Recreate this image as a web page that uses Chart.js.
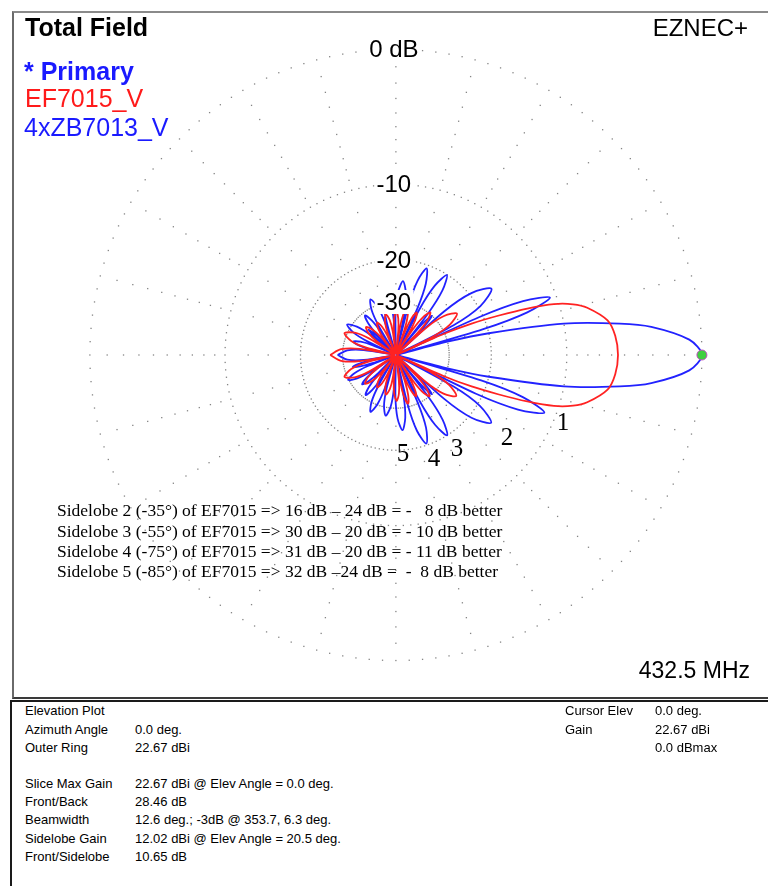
<!DOCTYPE html>
<html><head><meta charset="utf-8">
<script src="https://cdn.jsdelivr.net/npm/chart.js@4/dist/chart.umd.min.js"></script>
<style>
html,body{margin:0;padding:0;background:#fff;}
body{width:768px;height:886px;position:relative;overflow:hidden;font-family:Arial,"Liberation Sans",sans-serif;color:#000;}
.t{position:absolute;white-space:pre;line-height:1;}
#plotPanel{position:absolute;left:12px;top:11px;width:770px;height:684px;border-top:2px solid #8a8a8a;border-left:2px solid #6a6a6a;border-bottom:2px solid #3a3a3a;}
#infoPanel{position:absolute;left:10px;top:700px;width:770px;height:200px;border-top:2px solid #1a1a1a;border-left:2px solid #1a1a1a;}
#c{position:absolute;left:14px;top:14px;}
.ser{font-family:"Times New Roman","Liberation Serif",serif;}
.info{font-size:13px;}
.ring{font-size:24px;background:#fff;padding:0 2px;transform:translate(-50%,-50%);}
.num{font-size:25px;transform:translate(-50%,-50%);}
</style></head><body>
<div id="plotPanel"></div>
<div id="infoPanel"></div>
<canvas id="c" width="750" height="682"></canvas>

<div class="t" style="left:25px;top:15px;font-size:25px;font-weight:bold;">Total Field</div>
<div class="t" style="left:24px;top:59px;font-size:25px;font-weight:bold;color:#1a1aff;">* Primary</div>
<div class="t" style="left:25px;top:86px;font-size:25px;color:#ff1a1a;">EF7015_V</div>
<div class="t" style="left:24px;top:115px;font-size:25px;color:#1a1aff;">4xZB7013_V</div>
<div class="t" style="right:20px;top:16px;font-size:24px;">EZNEC+</div>
<div class="t" style="right:18px;top:659px;font-size:23px;">432.5 MHz</div>

<div class="t ser" style="left:57px;top:502px;font-size:17.5px;">Sidelobe 2 (-35°) of EF7015 =&gt; 16 dB – 24 dB = -   8 dB better</div>
<div class="t ser" style="left:57px;top:522.5px;font-size:17.5px;">Sidelobe 3 (-55°) of EF7015 =&gt; 30 dB – 20 dB = - 10 dB better</div>
<div class="t ser" style="left:57px;top:542.5px;font-size:17.5px;">Sidelobe 4 (-75°) of EF7015 =&gt; 31 dB – 20 dB = - 11 dB better</div>
<div class="t ser" style="left:57px;top:562.5px;font-size:17.5px;">Sidelobe 5 (-85°) of EF7015 =&gt; 32 dB –24 dB =  -  8 dB better</div>

<div class="t ser num" style="left:563px;top:421px;">1</div>
<div class="t ser num" style="left:507px;top:436px;">2</div>
<div class="t ser num" style="left:457px;top:447px;">3</div>
<div class="t ser num" style="left:434px;top:457px;">4</div>
<div class="t ser num" style="left:403px;top:452px;">5</div>

<div class="t info" style="left:25px;top:703.5px;">Elevation Plot</div>
<div class="t info" style="left:25px;top:722.5px;">Azimuth Angle</div>
<div class="t info" style="left:135px;top:722.5px;">0.0 deg.</div>
<div class="t info" style="left:25px;top:740.5px;">Outer Ring</div>
<div class="t info" style="left:135px;top:740.5px;">22.67 dBi</div>
<div class="t info" style="left:25px;top:776.5px;">Slice Max Gain</div>
<div class="t info" style="left:135px;top:776.5px;">22.67 dBi @ Elev Angle = 0.0 deg.</div>
<div class="t info" style="left:25px;top:794.5px;">Front/Back</div>
<div class="t info" style="left:135px;top:794.5px;">28.46 dB</div>
<div class="t info" style="left:25px;top:813px;">Beamwidth</div>
<div class="t info" style="left:135px;top:813px;">12.6 deg.; -3dB @ 353.7, 6.3 deg.</div>
<div class="t info" style="left:25px;top:831.5px;">Sidelobe Gain</div>
<div class="t info" style="left:135px;top:831.5px;">12.02 dBi @ Elev Angle = 20.5 deg.</div>
<div class="t info" style="left:25px;top:850px;">Front/Sidelobe</div>
<div class="t info" style="left:135px;top:850px;">10.65 dB</div>
<div class="t info" style="left:565px;top:703.5px;">Cursor Elev</div>
<div class="t info" style="left:655px;top:703.5px;">0.0 deg.</div>
<div class="t info" style="left:565px;top:722.5px;">Gain</div>
<div class="t info" style="left:655px;top:722.5px;">22.67 dBi</div>
<div class="t info" style="left:655px;top:740.5px;">0.0 dBmax</div>

<script>
// ---- data (elevation angle in degrees, level in dB relative to outer ring) ----
const blueAngles = [
-180,-174.5,-171.2,-169,
-168.1,-166.75,-164.5,-162.25,-160.9,-160,
-158.5,-156.25,-152.5,-148.75,-146.5,-145,
-143.8,-142,-139,-136,-134.2,-133,
-131.8,-130,-127,-124,-122.2,-121,
-119.6,-117.5,-114,-110.5,-108.4,-107,
-105.5,-103.25,-99.5,-95.75,-93.5,-92,
-90.6,-88.5,-85,-81.5,-79.4,-78,
-76.6,-74.5,-71,-67.5,-65.4,-64,
-62.7,-60.75,-57.5,-54.25,-52.3,-51,
-50.3,-49.25,-47.5,-45.75,-44.7,-44,
-42.3,-39.75,-35.5,-31.25,-28.7,-27,
-25.85,-24.1,-21.25,-18.4,-16.65,-15.5,
-14.5,-13.2,-10.6,-8,-6.3,-3,0,3,6.3,8,10.6,13.2,14.5,15.5,
16.5,18,20.5,23,24.5,25.5,
27.35,30.1,34.75,39.4,42.15,44,
44.7,45.75,47.5,49.25,50.3,51,
52.3,54.25,57.5,60.75,62.7,64,
65.3,67.25,70.5,73.75,75.7,77,
78.5,80.75,84.5,88.25,90.5,92,
93.5,95.75,99.5,103.25,105.5,107,
108.5,110.75,114.5,118.25,120.5,122,
123.2,125,128,131,132.8,134,
134.6,135.5,137,138.5,139.4,140,
141.6,144,148,152,154.4,156,
157.3,159.25,162.5,165.75,167.7,169,
171.2,174.5,180];
const blueDb = [
-28.46,-31.5,-38.5,-90,
-43,-36,-33,-36,-43,-90,
-39.8,-32.8,-29.8,-32.8,-39.8,-90,
-43,-36,-33,-36,-43,-90,
-41,-34,-31,-34,-41,-90,
-37.3,-30.3,-27.3,-30.3,-37.3,-90,
-37.5,-30.5,-27.5,-30.5,-37.5,-90,
-34,-27,-24,-27,-34,-90,
-30.3,-23.3,-20.3,-23.3,-30.3,-90,
-30,-23,-20,-23,-30,-90,
-40,-33,-30,-33,-40,-90,
-26.5,-19.5,-16.5,-19.5,-26.5,-90,
-21.2,-14.2,-11.2,-14.2,-21.2,-90,
-30,-20,-10,-5.2,-3,-0.7,0,-0.7,-3,-5.2,-10,-20,-30,-90,
-20.65,-13.65,-10.65,-13.65,-20.65,-90,
-26.6,-19.6,-16.6,-19.6,-26.6,-90,
-40,-33,-30,-33,-40,-90,
-30.1,-23.1,-20.1,-23.1,-30.1,-90,
-30.6,-23.6,-20.6,-23.6,-30.6,-90,
-34.3,-27.3,-24.3,-27.3,-34.3,-90,
-37.5,-30.5,-27.5,-30.5,-37.5,-90,
-37.6,-30.6,-27.6,-30.6,-37.6,-90,
-41,-34,-31,-34,-41,-90,
-46,-39,-36,-39,-46,-90,
-38.7,-31.7,-28.7,-31.7,-38.7,-90,
-43,-36,-33,-36,-43,-90,
-38.5,-31.5,-28.46];

const redAngles = [
-180,-174,-170.4,-168,
-165.8,-162.5,-157,-151.5,-148.2,-146,
-144.2,-141.5,-137,-132.5,-129.8,-128,
-126.4,-124,-120,-116,-113.6,-112,
-110.4,-108,-104,-100,-97.6,-96,
-94.6,-92.5,-89,-85.5,-83.4,-82,
-80.8,-79,-76,-73,-71.2,-70,
-68.8,-67,-64,-61,-59.2,-58,
-56.6,-54.5,-51,-47.5,-45.4,-44,
-42.05,-39.1,-34.25,-29.4,-26.45,-24.5,
-23.8,-22.6,-21,-19.5,-17.9,-16,-13.9,-9.3,-5,0,5,9.3,13.9,16,17.9,19.5,21,22.6,23.8,24.5,
26.45,29.4,34.25,39.1,42.05,44,
45.4,47.5,51,54.5,56.6,58,
59.2,61,64,67,68.8,70,
71.3,73.25,76.5,79.75,81.7,83,
84.3,86.25,89.5,92.75,94.7,96,
97.6,100,104,108,110.4,112,
113.6,116,120,124,126.4,128,
129.8,132.5,137,141.5,144.2,146,
148.2,151.5,157,162.5,165.8,168,
170.4,174,180];
const redDb = [
-26.4,-29.4,-36.4,-90,
-39.2,-32.2,-29.2,-32.2,-39.2,-90,
-44,-37,-34,-37,-44,-90,
-46,-39,-36,-39,-46,-90,
-44.5,-37.5,-34.5,-37.5,-44.5,-90,
-42.5,-35.5,-32.5,-35.5,-42.5,-90,
-41,-34,-31,-34,-41,-90,
-42.5,-35.5,-32.5,-35.5,-42.5,-90,
-40,-33,-30,-33,-40,-90,
-34.6,-27.6,-24.6,-27.6,-34.6,-90,
-30,-22.6,-17.5,-13.5,-10.5,-8.7,-7.55,-6.1,-5.65,-5.5,-5.65,-6.1,-7.55,-8.7,-10.5,-13.5,-17.5,-22.6,-30,-90,
-34.4,-27.4,-24.4,-27.4,-34.4,-90,
-39.5,-32.5,-29.5,-32.5,-39.5,-90,
-42,-35,-32,-35,-42,-90,
-41.5,-34.5,-31.5,-34.5,-41.5,-90,
-43.5,-36.5,-33.5,-36.5,-43.5,-90,
-44,-37,-34,-37,-44,-90,
-46,-39,-36,-39,-46,-90,
-44.5,-37.5,-34.5,-37.5,-44.5,-90,
-39.2,-32.2,-29.2,-32.2,-39.2,-90,
-36.4,-29.4,-26.4];

const cursorAngle = [0];
const cursorDb = [0];

const ringDb = [0, -10, -20, -30];
const ringLabels = ['0 dB', '-10', '-20', '-30'];
const spokeDb = [-1,-2,-3,-4,-5,-6,-7,-8,-9,-12.5,-15,-17.5,-25];

// ---- layout ----
const W = 750, H = 682, CX = 382, CY = 341, R = 311, CANVAS_LEFT = 14, CANVAS_TOP = 14;
const SPOKE_STEP = 15, RING_STEP = 2.5;

// ARRL log scale: radius factor 0.89 per 2 dB
function rad(db){ return Math.pow(0.89, -db/2); }
function toXY(angles, dbs){
  return angles.map((a,i)=>{ const r = rad(dbs[i]); const t = a*Math.PI/180; return {x:r*Math.cos(t), y:r*Math.sin(t)}; });
}

const gridPlugin = {
  id: 'polarGrid',
  beforeDatasetsDraw(chart){
    const ctx = chart.ctx, xs = chart.scales.x, ys = chart.scales.y;
    const dot = (r, deg) => {
      const t = deg*Math.PI/180;
      const X = xs.getPixelForValue(r*Math.cos(t)), Y = ys.getPixelForValue(r*Math.sin(t));
      ctx.fillRect(X-0.65, Y-0.65, 1.3, 1.3);
    };
    ctx.save();
    ctx.fillStyle = '#858585';
    ringDb.forEach(db => { const r = rad(db); for (let a = 0; a < 360; a += RING_STEP) dot(r, a); });
    for (let a = 0; a < 360; a += SPOKE_STEP) spokeDb.forEach(db => dot(rad(db), a));
    ctx.restore();
  }
};

const chart = new Chart(document.getElementById('c'), {
  type: 'scatter',
  data: { datasets: [
    { label:'cursor', data: toXY(cursorAngle, cursorDb), showLine:false, pointRadius:5, pointBackgroundColor:'#3fcf3f', pointBorderColor:'#c050c0', pointBorderWidth:1, order:0 },
    { label:'EF7015_V', data: toXY(redAngles, redDb), showLine:true, borderColor:'#ff2222', borderWidth:1.8, pointRadius:0, tension:0.3, fill:false, order:1 },
    { label:'4xZB7013_V', data: toXY(blueAngles, blueDb), showLine:true, borderColor:'#2222ff', borderWidth:1.8, pointRadius:0, tension:0.3, fill:false, order:2 }
  ]},
  options: {
    responsive:false, animation:false, events:[],
    layout:{ padding:0 },
    plugins:{ legend:{display:false}, tooltip:{enabled:false}, title:{display:false} },
    scales:{
      x:{ type:'linear', display:false, min:-CX/R, max:(W-CX)/R },
      y:{ type:'linear', display:false, min:-(H-CY)/R, max:CY/R }
    }
  },
  plugins:[gridPlugin]
});

// ring labels placed along the vertical spoke through the library's scales
ringDb.forEach((db, i) => {
  const el = document.createElement('div');
  el.className = 't ring';
  el.textContent = ringLabels[i];
  el.style.left = (CANVAS_LEFT + chart.scales.x.getPixelForValue(0) - 2) + 'px';
  el.style.top = (CANVAS_TOP + chart.scales.y.getPixelForValue(rad(db))) + 'px';
  document.body.appendChild(el);
});
</script>
</body></html>
